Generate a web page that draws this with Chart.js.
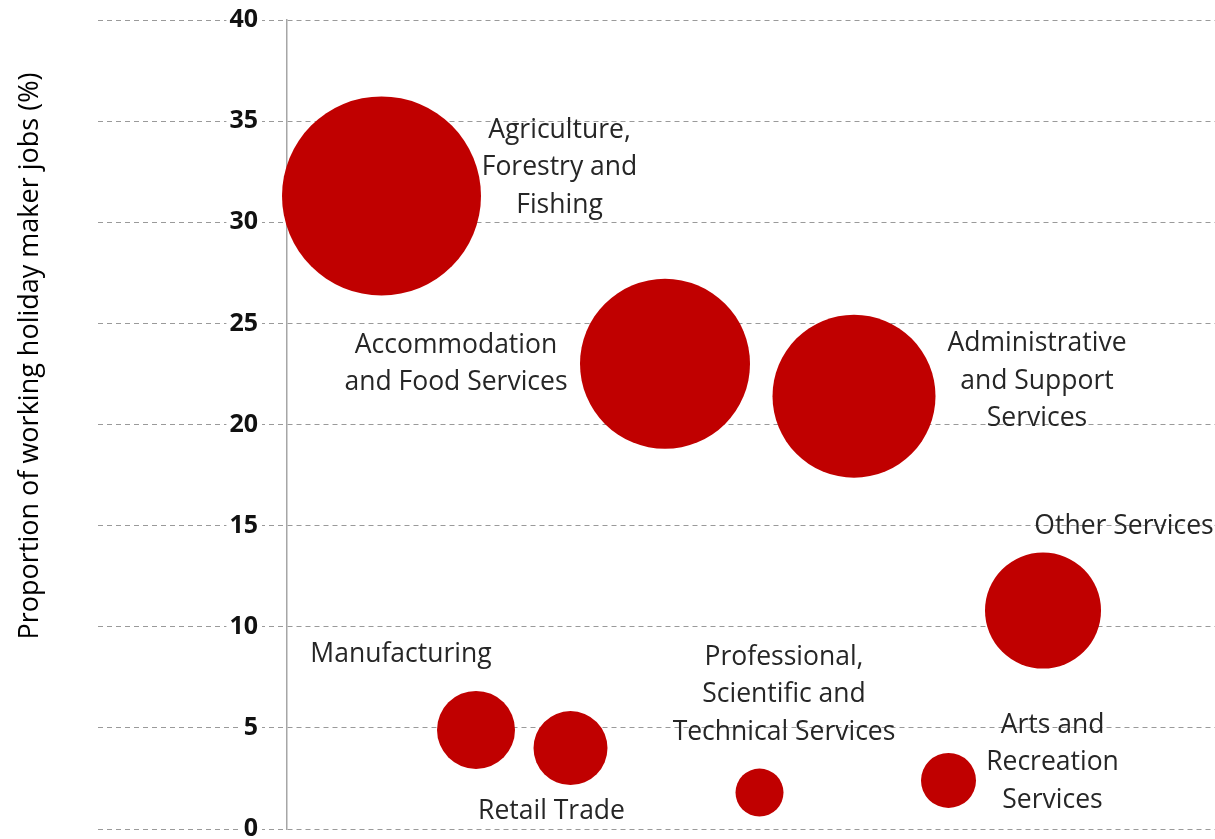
<!DOCTYPE html>
<html>
<head>
<meta charset="utf-8">
<script src="https://cdn.jsdelivr.net/npm/chart.js@4.4.1/dist/chart.umd.min.js"></script>
<style>
  html, body { margin: 0; padding: 0; background: #fff; }
  #wrap { width: 1215px; height: 839px; position: relative; }
</style>
</head>
<body>
<div id="wrap"><canvas id="bubbleChart"></canvas></div>
<script>
// industries, in the left-to-right order they sit on the chart
const categories = [
  'Agriculture, Forestry and Fishing',
  'Manufacturing',
  'Retail Trade',
  'Accommodation and Food Services',
  'Professional, Scientific and Technical Services',
  'Administrative and Support Services',
  'Arts and Recreation Services',
  'Other Services'
];
const xPositions = [1, 2, 3, 4, 5, 6, 7, 8];
// proportion of working holiday maker jobs (%)
const shares = [31.3, 4.9, 4.0, 23.0, 1.8, 21.4, 2.4, 10.8];
// bubble size (radius as drawn)
const bubbleSizes = [99.5, 39, 37, 85, 24, 81.5, 27.5, 58];
const labelLines = [
  ['Agriculture,', 'Forestry and', 'Fishing'],
  ['Manufacturing'],
  ['Retail Trade'],
  ['Accommodation', 'and Food Services'],
  ['Professional,', 'Scientific and', 'Technical Services'],
  ['Administrative', 'and Support', 'Services'],
  ['Arts and', 'Recreation', 'Services'],
  ['Other Services']
];
const yTitle = 'Proportion of working holiday maker jobs (%)';
const yMin = 0, yMax = 40, yStep = 5;

const points = categories.map((c, i) => ({ x: xPositions[i], y: shares[i], r: bubbleSizes[i] }));

// labels next to each bubble, offset in px from bubble centre (first line)
const bubbleLabels = {
  id: 'bubbleLabels',
  afterDatasetsDraw(chart, args, opts) {
    const ctx = chart.ctx;
    const meta = chart.getDatasetMeta(0);
    ctx.save();
    ctx.font = '26.5px "Open Sans"';
    ctx.fillStyle = '#262626';
    ctx.textAlign = 'center';
    ctx.textBaseline = 'middle';
    meta.data.forEach((el, i) => {
      const off = opts.offsets[i];
      labelLines[i].forEach((line, k) => {
        ctx.fillText(line, el.x + off[0], el.y + off[1] + k * opts.lineHeight);
      });
    });
    ctx.restore();
  }
};

const axisTitle = {
  id: 'axisTitle',
  afterDraw(chart, args, opts) {
    const ctx = chart.ctx;
    ctx.save();
    ctx.translate(opts.x, opts.y);
    ctx.rotate(-Math.PI / 2);
    ctx.font = '27px "Open Sans"';
    ctx.fillStyle = '#000';
    ctx.textAlign = 'center';
    ctx.textBaseline = 'middle';
    ctx.fillText(yTitle, 0, 0);
    ctx.restore();
  }
};

const ctx = document.getElementById('bubbleChart').getContext('2d');
new Chart(ctx, {
  type: 'bubble',
  data: {
    datasets: [{
      label: 'Industries',
      data: points,
      backgroundColor: '#C00000',
      borderWidth: 0,
      hoverBorderWidth: 0,
      clip: false
    }]
  },
  options: {
    responsive: true,
    maintainAspectRatio: false,
    animation: false,
    layout: { autoPadding: false, padding: { left: 0, top: 20, right: 0, bottom: 10 } },
    plugins: {
      legend: { display: false },
      tooltip: { enabled: false },
      bubbleLabels: {
        lineHeight: 37.5,
        offsets: [[178, -66], [-75, -75.5], [-19, 63.5], [-209, -18.5],
                  [24.5, -135.5], [183, -52.5], [104, -55.5], [81, -84]]
      },
      axisTitle: { x: 30, y: 356 }
    },
    scales: {
      x: {
        type: 'linear',
        min: 0,
        max: 9.82,
        display: false
      },
      y: {
        position: 'left',
        min: yMin,
        max: yMax,
        afterFit(scale) { scale.width = 287; },
        ticks: {
          stepSize: yStep,
          color: '#111',
          font: { family: '"Open Sans"', size: 25, weight: 'bold', lineHeight: 0.8 },
          padding: -160,
          showLabelBackdrop: true,
          backdropColor: '#fff',
          backdropPadding: { left: 3, right: 4, top: 0, bottom: 0 }
        },
        grid: {
          color: '#9a9a9a',
          lineWidth: 1,
          drawTicks: true,
          tickLength: 189,
          tickColor: '#9a9a9a',
          tickWidth: 1,
          tickBorderDash: [5, 4]
        },
        border: { display: true, color: '#a6a6a6', width: 1.5, dash: [5, 4] }
      }
    }
  },
  plugins: [bubbleLabels, axisTitle]
});
</script>
</body>
</html>
